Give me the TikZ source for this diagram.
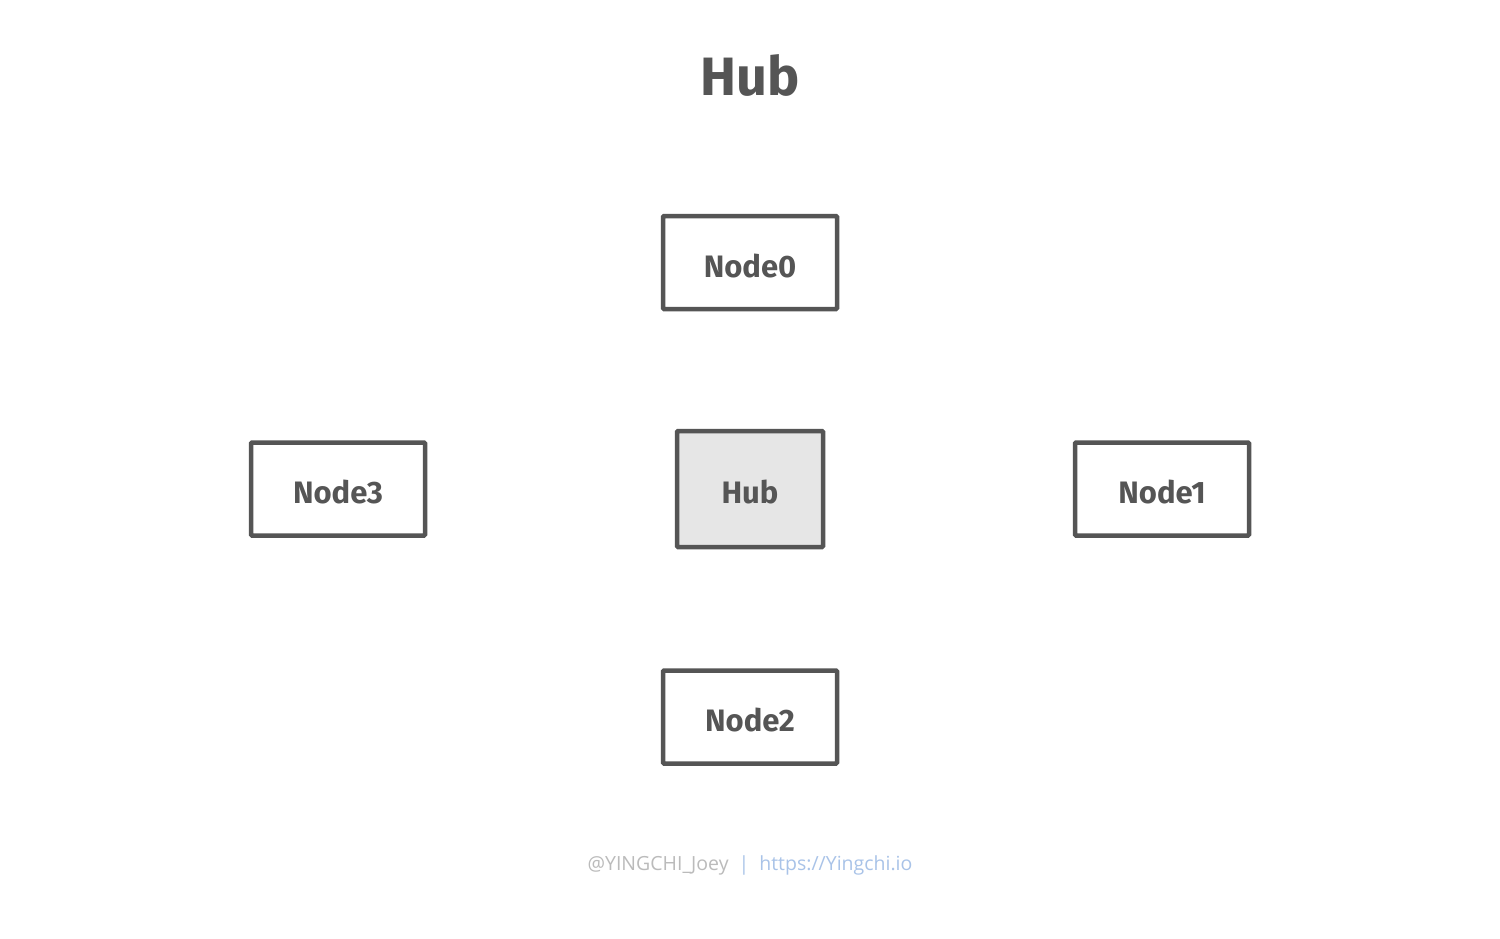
\documentclass[tikz,border=0pt]{standalone}
\usepackage{fontspec}
\setmainfont{Fira Sans}
\newfontfamily\footfont{Open Sans}
\definecolor{dgray}{HTML}{555555}
\definecolor{hubfill}{HTML}{E6E6E6}
\definecolor{footgray}{HTML}{BBBBBB}
\definecolor{footblue}{HTML}{A9C3E8}
\begin{document}
\begin{tikzpicture}[x=1pt,y=-1pt,
  box/.style={draw=dgray,line width=4.5pt,fill=white,rounded corners=1pt,minimum width=174pt,minimum height=93pt,inner sep=0pt,text=dgray,font=\fontsize{31}{31}\selectfont\bfseries,text height=29pt,text depth=0pt},
  hubbox/.style={box,fill=hubfill,minimum width=146pt,minimum height=116pt}]
\useasboundingbox[fill=white] (0,0) rectangle (1500,938);
\node[text=dgray,font=\fontsize{54}{54}\selectfont\bfseries] (title) at (750,75) {Hub};
\node[box] (n0) at (750,262.5) {Node0};
\node[hubbox] (hub) at (750,489) {Hub};
\node[box] (n3) at (338,489) {Node3};
\node[box] (n1) at (1162,489) {Node1};
\node[box] (n2) at (750,717) {Node2};
\node[font=\footfont\fontsize{19.5}{19.5}\selectfont,inner sep=0pt] (foot) at (750,865)
  {\textcolor{footgray}{@YINGCHI\_Joey}\hspace{10pt}\textcolor{footblue}{|}\hspace{10pt}\textcolor{footblue}{https://Yingchi.io}};
\end{tikzpicture}
\end{document}
